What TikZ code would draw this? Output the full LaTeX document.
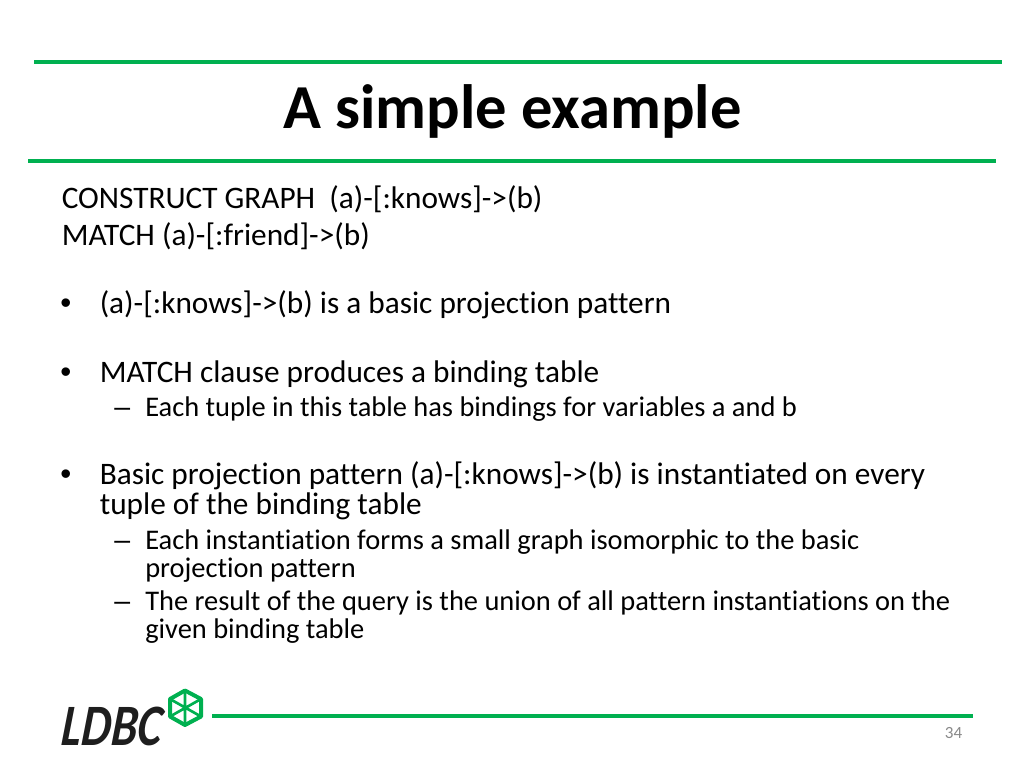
\documentclass[tikz,border=0pt]{standalone}
\usepackage{fontspec}
\setmainfont[Ligatures=NoCommon]{Carlito}
\newfontfamily\dotfont{Liberation Sans}
\definecolor{ldbcgreen}{RGB}{0, 176, 80}
\definecolor{logoblack}{RGB}{30, 30, 30}
\definecolor{pagegray}{RGB}{137, 137, 137}
\usetikzlibrary{positioning}
\tikzset{
  rulebar/.style={draw=ldbcgreen, line width=3.6pt},
  bodytext/.style={anchor=base west, inner sep=0pt, font=\fontsize{23.47}{28}\selectfont},
  subtext/.style={anchor=base west, inner sep=0pt, font=\fontsize{21.33}{25}\selectfont},
  bodydot/.style={anchor=base west, inner sep=0pt, font=\dotfont\fontsize{23.47}{28}\selectfont},
  subdash/.style={anchor=base west, inner sep=0pt, font=\dotfont\fontsize{21.33}{25}\selectfont},
  hexline/.style={draw=ldbcgreen, line join=round}
}
\begin{document}
\begin{tikzpicture}[x=0.75pt, y=-0.75pt]
  \useasboundingbox (0, 0) rectangle (1024, 768);

  % The title and its rules
  \draw[rulebar] (34, 62) -- (1002, 62);
  \draw[rulebar] (28, 161) -- (996, 161);
  \node[anchor=base, inner sep=0pt, font=\fontsize{46.93}{52}\selectfont\bfseries] (title) at (512.5, 128) {A simple example};

  % The query
  \node[bodytext] (construct) at (61.5, 208) {CONSTRUCT GRAPH\ \ (a)-[:knows]->(b)};
  \node[bodytext] (match) at (61.5, 245) {MATCH (a)-[:friend]->(b)};

  % First bullets
  \node[bodydot] (dota) at (60, 313) {•};
  \node[bodytext] (itema) at (99.5, 313) {(a)-[:knows]->(b) is a basic projection pattern};
  \node[bodydot] (dotb) at (60, 382) {•};
  \node[bodytext] (itemb) at (99.5, 382) {MATCH clause produces a binding table};
  \node[subdash] (dashb) at (114, 416) {–};
  \node[subtext] (subb) at (145, 416) {Each tuple in this table has bindings for variables a and b};

  % Last bullet
  \node[bodydot] (dotc) at (60, 484) {•};
  \node[bodytext] (itemc) at (99.5, 484) {Basic projection pattern (a)-[:knows]->(b) is instantiated on every};
  \node[bodytext] (itemcc) at (99.5, 514) {tuple of the binding table};
  \node[subdash] (dashc) at (114, 549) {–};
  \node[subtext] (subc) at (145, 549) {Each instantiation forms a small graph isomorphic to the basic};
  \node[subtext] (subcc) at (145, 577) {projection pattern};
  \node[subdash] (dashd) at (114, 610) {–};
  \node[subtext] (subd) at (145, 610) {The result of the query is the union of all pattern instantiations on the};
  \node[subtext] (subdd) at (145, 638) {given binding table};

  % The footer
  \draw[rulebar] (212, 716) -- (973, 716);
  \node[anchor=base east, inner sep=0pt, text=pagegray, font=\fontsize{12.8}{15}\selectfont] (pagenum) at (962.5, 738) {34};
  \node[anchor=base west, inner sep=0pt, text=logoblack, xscale=0.8, xslant=0.12, font=\fontsize{44}{46}\selectfont\bfseries\itshape] (logo) at (60.5, 745) {LDBC};
  \draw[hexline, line width=3pt] (185, 690.5) -- (201, 699) -- (201, 716.5) -- (185, 725) -- (170, 716.5) -- (170, 699) -- cycle;
  \draw[hexline, line width=2pt] (185, 690.5) -- (185, 725) (170, 699) -- (201, 716.5) (201, 699) -- (170, 716.5);
\end{tikzpicture}
\end{document}
